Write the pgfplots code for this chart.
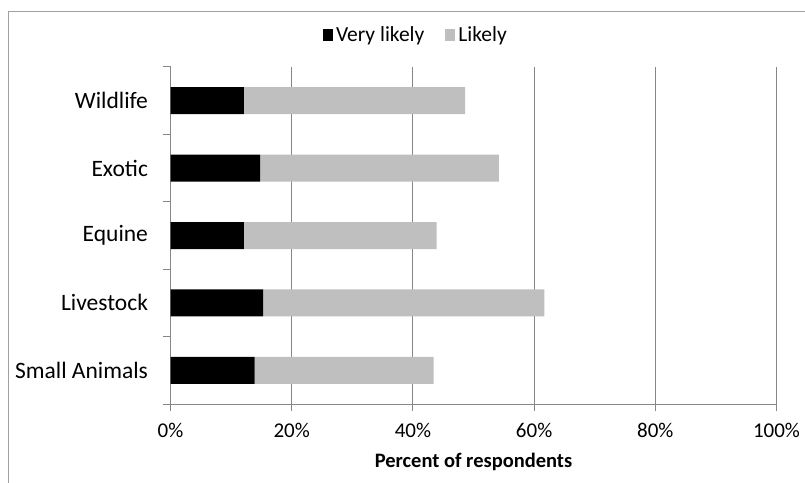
\documentclass[border=0pt]{standalone}
\usepackage{pgfplots}
\pgfplotsset{compat=1.18}
\usepackage{fontspec}
\setmainfont{Carlito}
\definecolor{barlight}{RGB}{191,191,191}
\definecolor{axisgray}{RGB}{134,134,134}
\definecolor{framegray}{RGB}{160,160,160}
\begin{document}
\begin{tikzpicture}[x=1pt,y=1pt]
\draw[framegray, line width=1pt] (8,-20) rectangle (830,470);
\begin{axis}[
  at={(170.5pt,78pt)}, anchor=south west,
  scale only axis, width=606pt, height=337pt,
  xbar stacked, bar width=27pt,
  xmin=0, xmax=100, ymin=0.5, ymax=5.5,
  axis lines*=left,
  axis line style={axisgray, line width=1pt},
  xtick={0,20,...,100},
  xticklabels={0\%,20\%,40\%,60\%,80\%,100\%},
  ytick={0.5,1.5,...,5.5},
  y tick label as interval,
  yticklabels={Small Animals,Livestock,Equine,Exotic,Wildlife},
  tick align=outside, major tick length=7pt,
  tick style={axisgray, line width=1pt},
  xmajorgrids, grid style={axisgray, line width=1pt},
  tick label style={font=\fontsize{21}{24}\selectfont, black},
  xticklabel style={yshift=-9pt},
  yticklabel style={font=\fontsize{23.5}{26}\selectfont, xshift=-12pt},
  xlabel={\textbf{Percent of respondents}},
  xlabel style={at={(axis description cs:0.5,0)}, anchor=center, yshift=-58pt,
    font=\fontsize{20.5}{24}\selectfont},
  legend style={at={(0.405,1.095)}, anchor=center, draw=none, legend columns=-1,
    font=\fontsize{21.5}{24}\selectfont,
    /tikz/every odd column/.append style={column sep=1pt},
    /tikz/every even column/.append style={column sep=19pt}},
]
\addplot[fill=black, draw=none,
  legend image code/.code={\fill[black] (0pt,-6pt) rectangle (10pt,6pt);}]
  coordinates {(13.9,1) (15.3,2) (12.1,3) (14.8,4) (12.1,5)};
\addplot[fill=barlight, draw=none,
  legend image code/.code={\fill[barlight] (0pt,-6pt) rectangle (10pt,6pt);}]
  coordinates {(29.5,1) (46.4,2) (31.8,3) (39.4,4) (36.5,5)};
\legend{Very likely,Likely}
\end{axis}
\pgfresetboundingbox
\useasboundingbox (0,0) rectangle (805,482);
\end{tikzpicture}
\end{document}
